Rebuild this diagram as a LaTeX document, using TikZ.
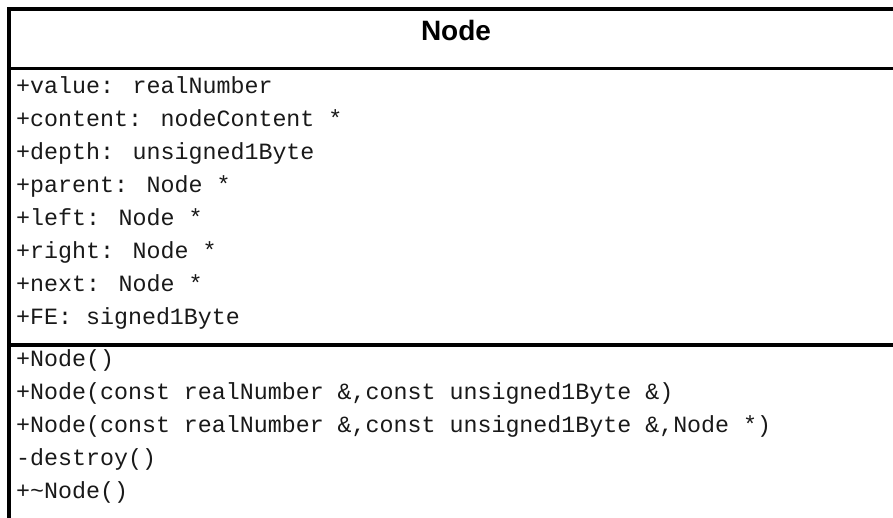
\documentclass[tikz,border=0pt]{standalone}
\usepackage{fontspec}
\setmainfont{Liberation Sans}
\newfontfamily\umlmono{Liberation Mono}
\begin{document}
\begin{tikzpicture}[x=1pt,y=-1pt,
  frame/.style={line width=3.5pt, draw=black},
  member/.style={anchor=base west, inner sep=0pt,
    font=\umlmono\fontsize{23.3}{26}\selectfont, text=black!90},
  classname/.style={anchor=base, inner sep=0pt,
    font=\bfseries\fontsize{28}{31}\selectfont}]
\useasboundingbox (0,0) rectangle (893,517);
\clip (0,0) rectangle (893,517);
\fill[white] (0,0) rectangle (893,517);

% class box and compartment dividers
\draw[frame] (9,9) rectangle (905,530);
\draw[frame] (9,68.5) -- (905,68.5);
\draw[frame] (9,345) -- (905,345);

% class name
\node[classname] (title) at (456,40) {Node};

% attributes
\node[member] (a1) at (16,93)  {+value: realNumber};
\node[member] (a2) at (16,126) {+content: nodeContent *};
\node[member] (a3) at (16,159) {+depth: unsigned1Byte};
\node[member] (a4) at (16,192) {+parent: Node *};
\node[member] (a5) at (16,225) {+left: Node *};
\node[member] (a6) at (16,258) {+right: Node *};
\node[member] (a7) at (16,291) {+next: Node *};
\node[member] (a8) at (16,324) {+FE: signed1Byte};

% operations
\node[member] (m1) at (16,366) {+Node()};
\node[member] (m2) at (16,399) {+Node(const realNumber \&,const unsigned1Byte \&)};
\node[member] (m3) at (16,432) {+Node(const realNumber \&,const unsigned1Byte \&,Node *)};
\node[member] (m4) at (16,465) {-destroy()};
\node[member] (m5) at (16,498) {+\string~Node()};
\end{tikzpicture}
\end{document}
